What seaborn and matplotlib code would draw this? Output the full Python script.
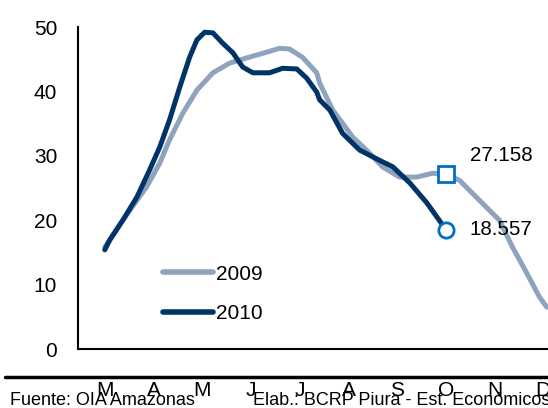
import pandas as pd
import matplotlib
matplotlib.use("Agg")
import matplotlib.pyplot as plt
import seaborn as sns
from matplotlib.lines import Line2D

# Month labels (Mar..Dec), positions are month centres
MONTHS = ["M", "A", "M", "J", "J", "A", "S", "O", "N", "D"]

# 2009 series (month position, value)
POS_2009 = [0.0, 0.37, 0.86, 1.13, 1.33, 1.60, 1.89, 2.22, 2.56, 2.91, 3.32, 3.59,
            3.79, 4.06, 4.35, 4.41, 4.68, 5.09, 5.37, 5.70, 6.05, 6.40, 6.73, 7.0,
            7.28, 7.69, 8.10, 8.37, 8.66, 8.92, 9.07]
VAL_2009 = [15.8, 20.0, 25.2, 28.9, 32.5, 36.6, 40.2, 42.9, 44.4, 45.2, 46.1, 46.7,
            46.6, 45.3, 42.9, 41.3, 37.1, 32.9, 30.9, 28.3, 26.7, 26.7, 27.3, 27.158,
            26.2, 23.1, 20.0, 15.8, 11.8, 8.1, 6.5]

# 2010 series
POS_2010 = [0.0, 0.10, 0.37, 0.66, 0.92, 1.13, 1.33, 1.54, 1.74, 1.89, 2.05, 2.22,
            2.42, 2.63, 2.83, 3.04, 3.38, 3.65, 3.94, 4.14, 4.35, 4.41, 4.62, 4.88,
            5.23, 5.64, 5.91, 6.26, 6.61, 7.0]
VAL_2010 = [15.4, 16.9, 20.0, 23.6, 27.8, 31.4, 35.6, 40.7, 45.3, 48.0, 49.2, 49.1,
            47.5, 46.0, 43.8, 42.9, 42.9, 43.6, 43.5, 42.1, 39.9, 38.7, 37.1, 33.5,
            30.9, 29.3, 28.3, 25.8, 22.7, 18.557]

LAST_2009 = "27.158"
LAST_2010 = "18.557"

sns.set_style("white")
plt.rcParams['font.family'] = ['Liberation Sans Narrow', 'Liberation Sans', 'DejaVu Sans']
plt.rcParams['text.color'] = 'black'
plt.rcParams['xtick.color'] = 'black'
plt.rcParams['ytick.color'] = 'black'

df = pd.concat([
    pd.DataFrame({'pos': POS_2009, 'value': VAL_2009, 'year': '2009'}),
    pd.DataFrame({'pos': POS_2010, 'value': VAL_2010, 'year': '2010'}),
])

fig = plt.figure(figsize=(5.48, 4.08), dpi=100)
ax = fig.add_axes([0.1423, 0.1446, 0.898, 0.789])

sns.lineplot(data=df, x='pos', y='value', hue='year', palette={'2009': '#8ea3bd', '2010': '#003366'},
             linewidth=3.6, sort=False, estimator=None, ax=ax, legend=False)

# end markers
ax.plot(POS_2009[-8], VAL_2009[-8], marker='s', markersize=11, markerfacecolor='white',
        markeredgecolor='#0070c0', markeredgewidth=2, zorder=5)
ax.plot(POS_2010[-1], VAL_2010[-1], marker='o', markersize=11, markerfacecolor='white',
        markeredgecolor='#0070c0', markeredgewidth=2, zorder=5)
ax.text(7.49, 30.1, LAST_2009, fontsize=14.8, va='center', ha='left')
ax.text(7.49, 18.5, LAST_2010, fontsize=14.8, va='center', ha='left')

ax.set_xlim(-0.55, 9.55)
ax.set_ylim(0, 50)
ax.set_yticks([0, 10, 20, 30, 40, 50])
ax.set_xticks(range(len(MONTHS)))
ax.set_xticklabels(MONTHS)
ax.tick_params(axis='x', length=0, pad=23, labelsize=15)
ax.tick_params(axis='y', length=0, pad=15, labelsize=15)
ax.set_xlabel('')
ax.set_ylabel('')
for s in ['top', 'right']:
    ax.spines[s].set_visible(False)
for s in ['left', 'bottom']:
    ax.spines[s].set_color('black')
    ax.spines[s].set_linewidth(1.5)

handles = [Line2D([], [], color='#8ea3bd', linewidth=4),
           Line2D([], [], color='#003366', linewidth=4)]
ax.legend(handles, ['2009', '2010'], loc='upper left', bbox_to_anchor=(0.172, 0.262),
          frameon=False, fontsize=15, handlelength=2.4, handletextpad=0.14,
          labelspacing=0.985, borderpad=0, borderaxespad=0)

# footer
fig.add_artist(Line2D([0.009, 1.0], [0.077, 0.077], color='black', linewidth=2.5))
fig.text(0.018, 0.007, "Fuente: OIA Amazonas", fontsize=13, ha='left', va='baseline')
fig.text(0.462, 0.007, "Elab.: BCRP Piura - Est. Económicos", fontsize=13, ha='left', va='baseline')

fig.savefig('out.png', dpi=100)
